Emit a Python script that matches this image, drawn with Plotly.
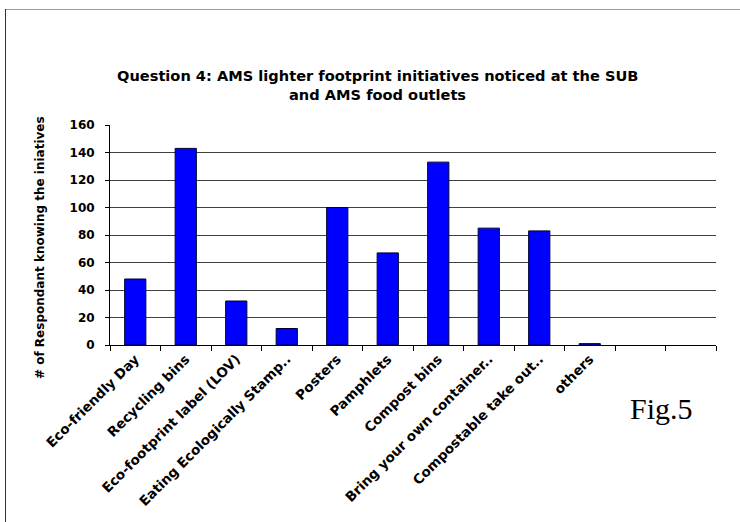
import plotly.graph_objects as go

categories = ["Eco-friendly Day", "Recycling bins", "Eco-footprint label (LOV)",
              "Eating Ecologically Stamp..", "Posters", "Pamphlets", "Compost bins",
              "Bring your own container..", "Compostable take out..", "others", " ", "  "]
values = [48, 143, 32, 12, 100, 67, 133, 85, 83, 1, None, None]
y_ticks = [0, 20, 40, 60, 80, 100, 120, 140, 160]

W, H = 740, 522
L, R, T, B = 110, 24, 125, 177
pw, ph = W - L - R, H - T - B

def px(x):
    return (x - L) / pw

def py(y):
    return (H - B - y) / ph

fig = go.Figure(go.Bar(
    x=categories, y=values,
    marker=dict(color="#0000FF", line=dict(color="#000033", width=1)),
    width=0.42,
))

font = "DejaVu Sans, Arial, sans-serif"

fig.update_layout(
    width=W, height=H,
    margin=dict(l=L, r=R, t=T, b=B),
    paper_bgcolor="white", plot_bgcolor="white",
    showlegend=False,
    xaxis=dict(
        type="category", categoryorder="array", categoryarray=categories,
        range=[-0.5, len(categories) - 0.5],
        tickangle=-45, tickson="boundaries", ticks="outside", ticklen=5,
        tickcolor="black", showline=True, linecolor="black", linewidth=1,
        showgrid=False,
        tickfont=dict(family=font, size=13.5, color="black", weight="bold"),
    ),
    yaxis=dict(
        range=[0, 160], tickvals=y_ticks, ticks="outside", ticklen=4,
        tickcolor="black", showline=True, linecolor="black", linewidth=1,
        showgrid=True, gridcolor="#404040", gridwidth=1, zeroline=False,
        ticklabelstandoff=8,
        tickfont=dict(family=font, size=12, color="black", weight="bold"),
    ),
    annotations=[
        dict(text="Question 4: AMS lighter footprint initiatives noticed at the SUB",
             x=px(377), y=py(75), xref="paper", yref="paper",
             xanchor="center", yanchor="middle", showarrow=False,
             font=dict(family=font, size=14.6, color="black", weight="bold")),
        dict(text="and AMS food outlets",
             x=px(377), y=py(94), xref="paper", yref="paper",
             xanchor="center", yanchor="middle", showarrow=False,
             font=dict(family=font, size=14.6, color="black", weight="bold")),
        dict(text="# of Respondant knowing the iniatives", textangle=-90,
             x=px(40), y=py(248), xref="paper", yref="paper",
             xanchor="center", yanchor="middle", showarrow=False,
             font=dict(family=font, size=12, color="black", weight="bold")),
        dict(text="Fig.5", x=px(661), y=py(408), xref="paper", yref="paper",
             xanchor="center", yanchor="middle", showarrow=False,
             font=dict(family="Liberation Serif, Times New Roman, serif", size=30, color="black")),
    ],
    shapes=[
        dict(type="line", xref="paper", yref="paper", x0=px(5), x1=px(745), y0=py(9.5), y1=py(9.5),
             line=dict(color="#9a9a9a", width=1)),
        dict(type="line", xref="paper", yref="paper", x0=px(5.5), x1=px(5.5), y0=py(9), y1=py(530),
             line=dict(color="#333333", width=1)),
    ],
)

fig.write_html("out.html")
